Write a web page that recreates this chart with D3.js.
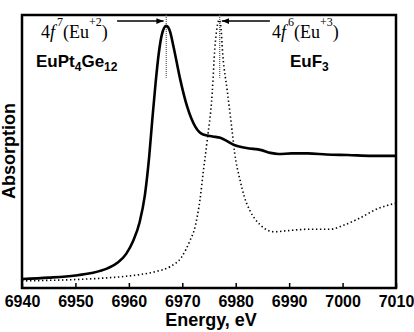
<!DOCTYPE html>
<html>
<head>
<meta charset="utf-8">
<script src="https://cdn.jsdelivr.net/npm/d3@7"></script>
<style>
  body { margin: 0; background: #fff; }
  svg { display: block; }
</style>
</head>
<body>
<svg id="chart" width="414" height="332"></svg>
<script>
// EuPt4Ge12 (solid) - energy (eV) and absorption (arb. units)
const solidEnergy = [6940, 6945, 6950, 6953, 6956, 6958, 6959.5, 6960.8, 6962.0, 6963.0,
	6963.8, 6964.4, 6965.0, 6965.6, 6966.2, 6967.0, 6967.7, 6968.4, 6969.6, 6970.9,
	6972.4, 6973.9, 6975.7, 6977.1, 6978.4, 6979.7, 6982.0, 6984.8, 6986.5, 6988.0,
	6990.5, 6993.5, 6997.0, 7001.0, 7005.5, 7010];
const solidAbs = [0.033, 0.038, 0.046, 0.055, 0.072, 0.094, 0.125, 0.172, 0.240, 0.340,
	0.480, 0.620, 0.750, 0.860, 0.930, 0.960, 0.940, 0.880, 0.765, 0.665,
	0.592, 0.562, 0.555, 0.550, 0.538, 0.524, 0.513, 0.505, 0.495, 0.491,
	0.493, 0.493, 0.489, 0.487, 0.484, 0.484];

// EuF3 (dotted)
const dotEnergy = [6940, 6945, 6950, 6955, 6959, 6962, 6965, 6967.7, 6969.9, 6971.4,
	6972.4, 6973.3, 6973.9, 6974.6, 6975.6, 6976.1, 6976.5, 6976.9, 6977.2, 6977.6,
	6978.4, 6979.3, 6979.8, 6980.8, 6981.6, 6982.7, 6984.5, 6987.2, 6990.2, 6993.3,
	6997.6, 7000.2, 7003.2, 7006.4, 7010];
const dotAbs = [0.026, 0.028, 0.031, 0.036, 0.042, 0.049, 0.060, 0.078, 0.114, 0.172,
	0.225, 0.322, 0.421, 0.531, 0.714, 0.880, 0.955, 0.982, 0.960, 0.850,
	0.725, 0.579, 0.495, 0.396, 0.335, 0.282, 0.233, 0.206, 0.211, 0.215,
	0.215, 0.230, 0.256, 0.289, 0.311];

const xTicks = [6940, 6950, 6960, 6970, 6980, 6990, 7000, 7010];
const peakEnergy = [6967, 6977];      // vertical markers
const markerLow = 0.77;               // marker bottom (abs units)

const svg = d3.select("#chart");
const margin = { top: 15, right: 18, bottom: 44, left: 22 };
const width = +svg.attr("width"), height = +svg.attr("height");

const x = d3.scaleLinear().domain([6940, 7010]).range([margin.left, width - margin.right]);
const y = d3.scaleLinear().domain([0, 1]).range([height - margin.bottom, margin.top]);

svg.append("defs").append("marker")
	.attr("id", "arrow")
	.attr("viewBox", "0 0 10 10")
	.attr("refX", 10).attr("refY", 5)
	.attr("markerWidth", 4.5).attr("markerHeight", 4.5)
	.attr("orient", "auto")
	.append("path")
	.attr("d", "M0,1 L10,5 L0,9 Z")
	.attr("fill", "#000");

// frame
svg.append("rect")
	.attr("x", x.range()[0]).attr("y", y.range()[1])
	.attr("width", x.range()[1] - x.range()[0])
	.attr("height", y.range()[0] - y.range()[1])
	.attr("fill", "none").attr("stroke", "#000").attr("stroke-width", 2.5);

// x axis, ticks inside
const xAxis = svg.append("g")
	.attr("transform", `translate(0,${y(0)})`)
	.call(d3.axisBottom(x).tickValues(xTicks).tickFormat(d3.format("d"))
		.tickSizeInner(-5).tickSizeOuter(0).tickPadding(8));
xAxis.select(".domain").remove();
xAxis.selectAll("line").attr("stroke-width", 1.5);
xAxis.selectAll("text")
	.attr("font-family", "Liberation Sans, Arial, sans-serif")
	.attr("font-size", 16).attr("font-weight", "bold").attr("fill", "#000");

// peak markers
svg.selectAll(".marker")
	.data(peakEnergy)
	.join("line")
	.attr("x1", (d) => x(d)).attr("x2", (d) => x(d))
	.attr("y1", y(1)).attr("y2", y(markerLow))
	.attr("stroke", "#555").attr("stroke-width", 1.2)
	.attr("stroke-dasharray", "1,1");

const line = d3.line().curve(d3.curveMonotoneX)
	.x((d) => x(d[0])).y((d) => y(d[1]));

svg.append("path")
	.datum(dotEnergy.map((e, i) => [e, dotAbs[i]]))
	.attr("d", line)
	.attr("fill", "none").attr("stroke", "#000")
	.attr("stroke-width", 1.6).attr("stroke-dasharray", "1.4,2.6");

svg.append("path")
	.datum(solidEnergy.map((e, i) => [e, solidAbs[i]]))
	.attr("d", line)
	.attr("fill", "none").attr("stroke", "#000").attr("stroke-width", 2.6);

// arrows
const arrowY = 0.978;
svg.append("line")
	.attr("x1", x(6957.8)).attr("x2", x(6966.5))
	.attr("y1", y(arrowY)).attr("y2", y(arrowY))
	.attr("stroke", "#000").attr("stroke-width", 1.6)
	.attr("marker-end", "url(#arrow)");
svg.append("line")
	.attr("x1", x(6986.4)).attr("x2", x(6977.4))
	.attr("y1", y(arrowY)).attr("y2", y(arrowY))
	.attr("stroke", "#000").attr("stroke-width", 1.6)
	.attr("marker-end", "url(#arrow)");

// state labels
function stateLabel(xPos, n, ch) {
	const t = svg.append("text")
		.attr("x", xPos).attr("y", 38)
		.attr("font-family", "Liberation Serif, Times New Roman, serif")
		.attr("font-size", 18);
	t.append("tspan").text("4");
	t.append("tspan").attr("font-style", "italic").text("f");
	t.append("tspan").attr("font-size", 12).attr("dx", 2).attr("dy", -12).text(n);
	t.append("tspan").attr("dy", 12).text("(Eu");
	t.append("tspan").attr("font-size", 12).attr("dy", -12).text(ch);
	t.append("tspan").attr("dy", 12).text(")");
}
stateLabel(41, "7", "+2");
stateLabel(272, "6", "+3");

function compound(xPos, parts) {
	const t = svg.append("text")
		.attr("x", xPos).attr("y", 67)
		.attr("font-family", "Liberation Sans, Arial, sans-serif")
		.attr("font-size", 17).attr("font-weight", "bold");
	parts.forEach(([s, sub], i) => {
		const prevSub = i > 0 && parts[i - 1][1];
		const ts = t.append("tspan").text(s)
			.attr("dy", sub && !prevSub ? 4 : !sub && prevSub ? -4 : 0);
		if (sub) ts.attr("font-size", 12);
	});
}
compound(36, [["EuPt"], ["4", true], ["Ge"], ["12", true]]);
compound(290, [["EuF"], ["3", true]]);

// axis titles
svg.append("text")
	.attr("x", (x.range()[0] + x.range()[1]) / 2 + 2).attr("y", 326)
	.attr("text-anchor", "middle")
	.attr("font-family", "Liberation Sans, Arial, sans-serif")
	.attr("font-size", 18).attr("font-weight", "bold")
	.text("Energy, eV");
svg.append("text")
	.attr("transform", "translate(15,151) rotate(-90)")
	.attr("text-anchor", "middle")
	.attr("font-family", "Liberation Sans, Arial, sans-serif")
	.attr("font-size", 18).attr("font-weight", "bold")
	.text("Absorption");
</script>
</body>
</html>
